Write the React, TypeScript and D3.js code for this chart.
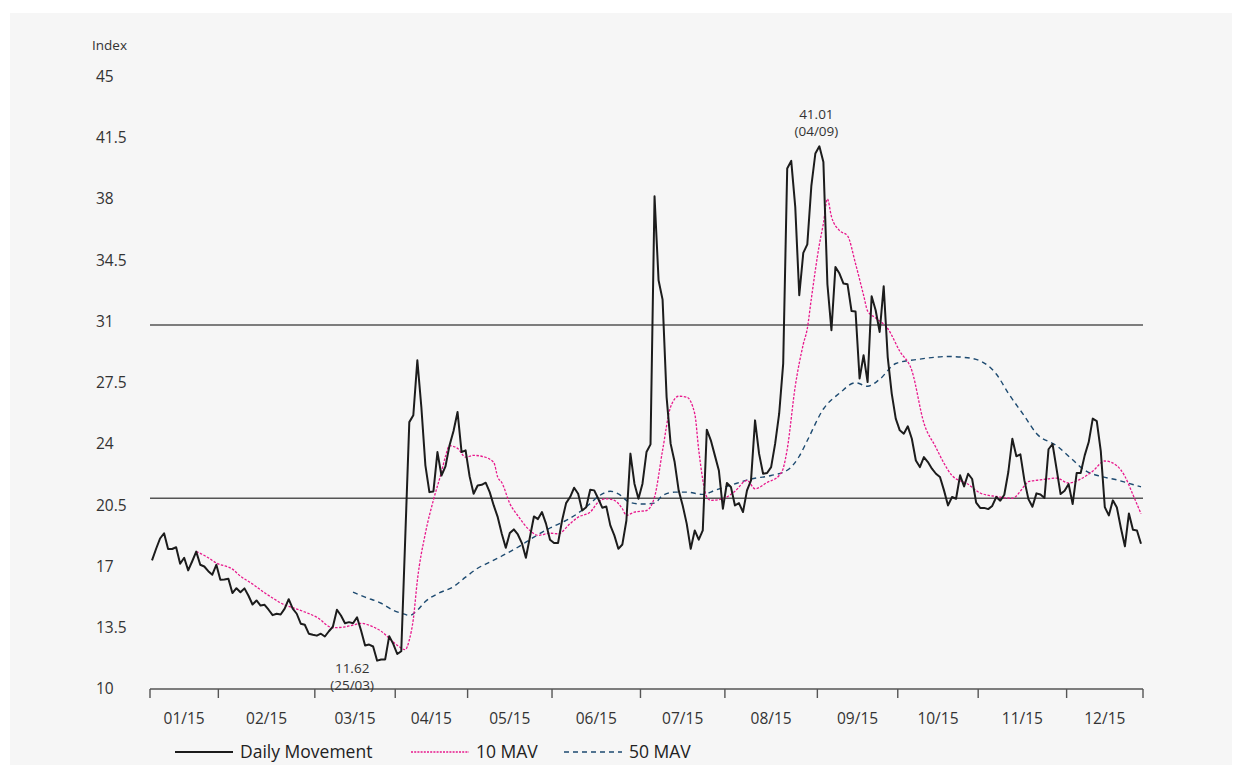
import { useEffect, useRef } from "react";
import * as d3 from "d3";

// daily index level, one value per trading day
const daily = [
  17.35, 18.0, 18.6, 18.9, 18.0, 18.0, 18.1, 17.16, 17.5, 16.78,
  17.3, 17.85, 17.1, 17.0, 16.73, 16.53, 17.1, 16.24, 16.26, 16.3,
  15.48, 15.76, 15.53, 15.75, 15.33, 14.83, 15.06, 14.77, 14.81, 14.53,
  14.22, 14.3, 14.26, 14.59, 15.13, 14.59, 14.3, 13.73, 13.67, 13.16,
  13.1, 13.05, 13.16, 13.0, 13.3, 13.57, 14.53, 14.2, 13.76, 13.82,
  13.76, 14.1, 13.34, 12.49, 12.54, 12.43, 11.62, 11.69, 11.69, 13.02,
  12.58, 12.0, 12.16, 18.7, 25.25, 25.64, 28.78, 26.1, 22.78, 21.25,
  21.29, 23.54, 22.2, 22.72, 23.92, 24.74, 25.83, 23.54, 23.64, 22.15,
  21.16, 21.63, 21.67, 21.79, 21.25, 20.49, 19.82, 18.87, 18.07, 18.91,
  19.12, 18.83, 18.34, 17.5, 18.68, 19.86, 19.71, 20.11, 19.45, 18.53,
  18.34, 18.34, 19.63, 20.62, 20.97, 21.5, 21.16, 20.2, 20.39, 21.39,
  21.35, 20.87, 20.36, 20.43, 19.35, 18.78, 18.01, 18.26, 19.63, 23.45,
  21.73, 20.87, 21.73, 23.54, 23.98, 38.16, 33.36, 32.25, 26.68, 24.02,
  22.97, 21.35, 20.49, 19.45, 18.01, 19.06, 18.53, 19.06, 24.82, 24.21,
  23.35, 22.49, 20.3, 21.77, 21.54, 20.49, 20.62, 20.11, 21.35, 21.92,
  25.35, 23.45, 22.3, 22.34, 22.68, 24.02, 25.73, 28.59, 39.74, 40.18,
  37.55, 32.5, 34.92, 35.41, 38.73, 40.6, 41.01, 40.12, 33.13, 30.5,
  34.12, 33.74, 33.17, 33.13, 31.6, 31.57, 27.74, 29.07, 27.54, 32.44,
  31.64, 30.4, 33.01, 28.97, 26.88, 25.45, 24.78, 24.59, 25.01, 24.3,
  23.06, 22.68, 23.25, 22.97, 22.59, 22.3, 22.11, 21.35, 20.49, 20.97,
  20.87, 22.21, 21.58, 22.3, 22.0, 20.65, 20.35, 20.35, 20.28, 20.46,
  20.97, 20.76, 21.1, 22.4, 24.3, 23.3, 23.41, 21.92, 20.85, 20.41,
  21.18, 21.11, 20.92, 23.7, 24.0, 22.58, 21.14, 21.33, 21.71, 20.57,
  22.34, 22.34, 23.35, 24.11, 25.45, 25.31, 23.59, 20.39, 19.92, 20.78,
  20.37, 19.2, 18.15, 20.03, 19.1, 19.06, 18.3,
];

const mav10 = [
  [11, 17.85], [12, 17.75], [14, 17.5], [16, 17.2], [20, 16.85], [22, 16.45],
  [25, 16.0], [28, 15.5], [30, 15.2], [33, 14.8], [35, 14.65], [38, 14.4],
  [41, 14.1], [45, 13.5], [48, 13.55], [50, 13.65], [52, 13.75], [55, 13.55],
  [57, 13.3], [59, 12.9], [61, 12.5], [63, 12.25], [64, 12.8], [65, 14.0],
  [66, 16.2], [68, 18.9], [70, 20.8], [72, 22.4], [73, 23.3], [74, 23.9],
  [76, 23.75], [78, 23.25], [80, 23.35], [82, 23.3], [85, 22.95], [86, 22.1],
  [87, 21.8], [89, 20.6], [91, 19.9], [94, 19.06], [96, 18.78], [99, 18.9],
  [101, 18.87], [104, 19.45], [106, 19.82], [109, 20.11], [111, 20.68],
  [113, 20.87], [115, 20.78], [117, 20.3], [118, 19.92], [120, 20.11],
  [123, 20.2], [125, 20.97], [127, 23.64], [129, 26.12], [131, 26.73],
  [133, 26.68], [135, 25.73], [136, 23.64], [138, 20.97], [139, 20.78],
  [142, 20.87], [145, 21.3], [148, 21.92], [150, 21.44], [153, 21.8],
  [156, 22.2], [157, 22.6], [158, 23.7], [160, 27.3], [162, 29.7], [163, 30.6],
  [164, 32.3], [166, 35.4], [167, 36.6], [168, 38.0], [169, 37.0], [171, 36.2],
  [173, 35.9], [175, 34.3], [177, 32.5], [178, 31.6], [180, 31.2], [183, 30.6],
  [186, 29.3], [189, 28.2], [192, 25.2], [195, 23.8], [197, 22.9], [199, 22.2],
  [203, 21.7], [206, 21.2], [210, 21.0], [214, 20.9], [217, 21.6], [218, 21.85],
  [221, 21.95], [225, 22.05], [228, 21.77], [231, 22.0], [234, 22.45],
  [237, 23.03], [240, 22.76], [242, 22.15], [244, 21.1], [246, 20.02],
];

const mav50 = [
  [50, 15.53], [53, 15.25], [57, 14.9], [60, 14.5], [63, 14.26], [64, 14.2],
  [66, 14.5], [68, 15.0], [71, 15.44], [75, 15.85], [78, 16.39], [81, 16.9],
  [84, 17.25], [87, 17.6], [91, 18.1], [95, 18.68], [99, 19.2], [103, 19.63],
  [106, 20.05], [109, 20.6], [111, 21.0], [114, 21.3], [116, 21.15],
  [119, 20.65], [122, 20.57], [125, 20.62], [127, 21.06], [130, 21.25],
  [133, 21.25], [137, 21.12], [140, 21.35], [144, 21.65], [149, 22.0],
  [154, 22.2], [158, 22.5], [161, 23.3], [163, 24.2], [167, 26.0], [171, 26.9],
  [175, 27.5], [178, 27.3], [181, 27.7], [185, 28.6], [191, 28.85], [198, 29.0],
  [202, 28.95], [206, 28.75], [210, 28.0], [213, 26.9], [217, 25.6], [220, 24.6],
  [225, 23.9], [229, 23.1], [232, 22.5], [236, 22.15], [240, 21.95],
  [243, 21.75], [246, 21.55],
];

const months = ["01/15", "02/15", "03/15", "04/15", "05/15", "06/15",
  "07/15", "08/15", "09/15", "10/15", "11/15", "12/15"];
// month boundaries in trading days
const monthEdges = [-0.5, 16.5, 40.5, 60.5, 78.5, 99.5, 121.5, 142.5, 165.5, 185.5, 205.5, 227.5, 246.5];
const yTicks = [10, 13.5, 17, 20.5, 24, 27.5, 31, 34.5, 38, 41.5, 45];
const refLines = [30.8, 20.9];

const peak = {day: 166, value: "41.01", date: "(04/09)"};
const trough = {day: 56, value: "11.62", date: "(25/03)"};

const font = "'Open Sans', 'DejaVu Sans', sans-serif";
const pink = "#e8188c";
const blue = "#1d4a70";

function App() {
  const ref = useRef(null);

  useEffect(() => {
    const W = 1242, H = 765;
    const svg = d3.select(ref.current)
      .append("svg")
      .attr("width", W)
      .attr("height", H)
      .style("position", "absolute")
      .style("left", 0)
      .style("top", 0)
      .style("font-family", font);

    svg.append("rect").attr("width", W).attr("height", H).attr("fill", "#ffffff");
    svg.append("rect").attr("x", 10).attr("y", 13).attr("width", 1222).attr("height", 752).attr("fill", "#f6f6f6");

    let x = d3.scaleLinear().domain([monthEdges[0], monthEdges[monthEdges.length - 1]]).range([150, 1143]);
    let y = d3.scaleLinear().domain([10, 45]).range([689, 76.5]);

    // y labels
    svg.append("text")
      .attr("x", 92).attr("y", 50)
      .attr("font-size", 13.5).attr("fill", "#333")
      .text("Index");

    svg.append("g")
      .selectAll("text")
      .data(yTicks)
      .enter().append("text")
      .attr("x", 96)
      .attr("y", d => y(d))
      .attr("dy", "0.35em")
      .attr("font-size", 15.5)
      .attr("fill", "#333")
      .text(d => d);

    // reference lines
    svg.append("g")
      .selectAll("line")
      .data(refLines)
      .enter().append("line")
      .attr("x1", x.range()[0]).attr("x2", x.range()[1])
      .attr("y1", d => y(d)).attr("y2", d => y(d))
      .attr("stroke", "#555").attr("stroke-width", 1.4);

    // x axis
    let axis = svg.append("g");
    axis.append("line")
      .attr("x1", x.range()[0]).attr("x2", x.range()[1])
      .attr("y1", y(10)).attr("y2", y(10))
      .attr("stroke", "#555").attr("stroke-width", 1.6);
    axis.selectAll(".tick")
      .data(monthEdges)
      .enter().append("line")
      .attr("x1", d => x(d)).attr("x2", d => x(d))
      .attr("y1", y(10)).attr("y2", y(10) + 9)
      .attr("stroke", "#555").attr("stroke-width", 1.4);
    axis.selectAll("text")
      .data(months)
      .enter().append("text")
      .attr("x", (d, i) => (x(monthEdges[i]) + x(monthEdges[i + 1])) / 2)
      .attr("y", 724)
      .attr("text-anchor", "middle")
      .attr("font-size", 15.5)
      .attr("fill", "#333")
      .text(d => d);

    // series
    let line = d3.line().x((d, i) => x(i)).y(d => y(d));
    let maLine = d3.line().x(d => x(d[0])).y(d => y(d[1])).curve(d3.curveMonotoneX);

    svg.append("path")
      .attr("d", maLine(mav50))
      .attr("fill", "none").attr("stroke", blue)
      .attr("stroke-width", 1.4).attr("stroke-dasharray", "5,4");

    svg.append("path")
      .attr("d", maLine(mav10))
      .attr("fill", "none").attr("stroke", pink)
      .attr("stroke-width", 1.3).attr("stroke-dasharray", "2.5,1.5");

    svg.append("path")
      .attr("d", line(daily))
      .attr("fill", "none").attr("stroke", "#1c1c1c")
      .attr("stroke-width", 2).attr("stroke-linejoin", "round");

    // annotations
    let ann = svg.append("g").attr("font-size", 13.5).attr("fill", "#333").attr("text-anchor", "middle");
    ann.append("text").attr("x", x(peak.day) - 3).attr("y", y(daily[peak.day]) - 27).text(peak.value);
    ann.append("text").attr("x", x(peak.day) - 3).attr("y", y(daily[peak.day]) - 10).text(peak.date);
    ann.append("text").attr("x", x(trough.day) - 25).attr("y", y(daily[trough.day]) + 12).text(trough.value);
    ann.append("text").attr("x", x(trough.day) - 25).attr("y", y(daily[trough.day]) + 29).text(trough.date);

    // legend
    let legend = [
      {label: "Daily Movement", x: 175, color: "#1c1c1c", width: 2, dash: null},
      {label: "10 MAV", x: 411, color: pink, width: 1.3, dash: "2,1.2"},
      {label: "50 MAV", x: 564, color: blue, width: 1.4, dash: "5,4"},
    ];
    let lg = svg.append("g").selectAll("g").data(legend).enter().append("g")
      .attr("transform", d => `translate(${d.x},752)`);
    lg.append("line")
      .attr("x1", 0).attr("x2", 58)
      .attr("stroke", d => d.color).attr("stroke-width", d => d.width)
      .attr("stroke-dasharray", d => d.dash);
    lg.append("text")
      .attr("x", 65)
      .attr("dy", "0.35em")
      .attr("font-size", 17.5)
      .attr("fill", "#222")
      .text(d => d.label);

    return () => {
      ref.current && ref.current.querySelector("svg")?.remove();
    };
  }, []);

  return <div ref={ref}></div>;
}

export default App;
